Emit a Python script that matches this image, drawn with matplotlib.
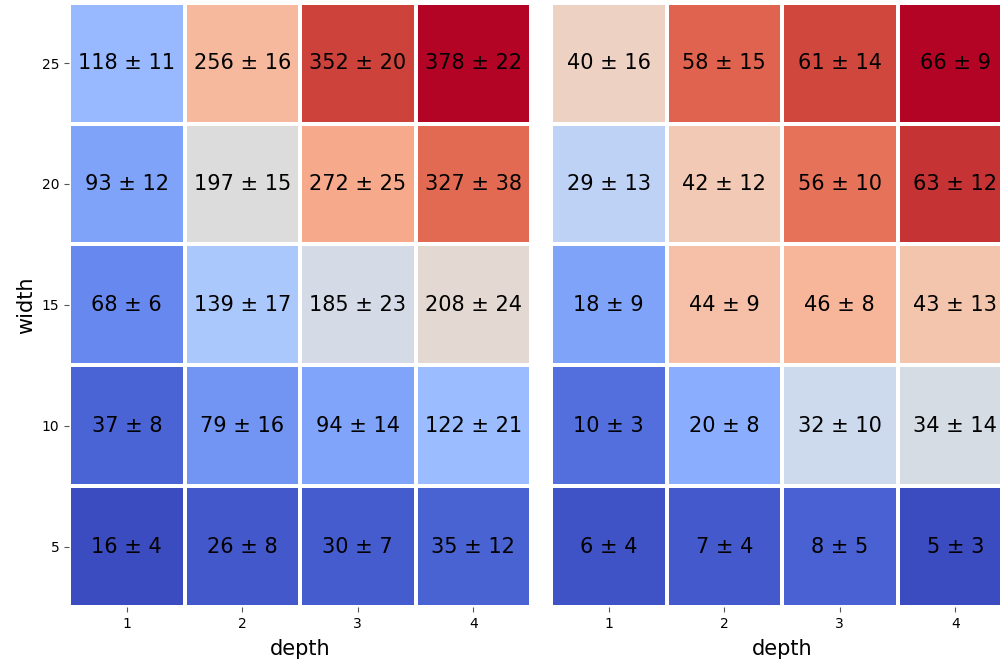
import numpy as np
import matplotlib
matplotlib.use("Agg")
import matplotlib.pyplot as plt

depth = [1, 2, 3, 4]
width = [5, 10, 15, 20, 25]

# rows: width 5,10,15,20,25 ; cols: depth 1..4
left_mean = [[16, 26, 30, 35],
             [37, 79, 94, 122],
             [68, 139, 185, 208],
             [93, 197, 272, 327],
             [118, 256, 352, 378]]
left_err = [[4, 8, 7, 12],
            [8, 16, 14, 21],
            [6, 17, 23, 24],
            [12, 15, 25, 38],
            [11, 16, 20, 22]]
right_mean = [[6, 7, 8, 5],
              [10, 20, 32, 34],
              [18, 44, 46, 43],
              [29, 42, 56, 63],
              [40, 58, 61, 66]]
right_err = [[4, 4, 5, 3],
             [3, 8, 10, 14],
             [9, 9, 8, 13],
             [13, 12, 10, 12],
             [16, 15, 14, 9]]

fig = plt.figure(figsize=(10, 6.67), dpi=100)
axL = fig.add_axes([0.069, 0.09, 0.462, 0.906])
axR = fig.add_axes([0.551, 0.09, 0.462, 0.906])

for ax, mean, err, ylab in [(axL, left_mean, left_err, True), (axR, right_mean, right_err, False)]:
    m = np.array(mean, dtype=float)
    ax.pcolormesh(np.arange(len(depth) + 1), np.arange(len(width) + 1), m,
                  cmap="coolwarm", vmin=m.min(), vmax=m.max(),
                  edgecolors="white", linewidth=2.8)
    for i in range(len(width)):
        for j in range(len(depth)):
            ax.text(j + 0.5, i + 0.5, f"{mean[i][j]} ± {err[i][j]}",
                    ha="center", va="center", fontsize=15, color="black")
    ax.set_xlim(0, len(depth))
    ax.set_ylim(0, len(width))
    for s in ax.spines.values():
        s.set_visible(False)
    ax.set_xticks(np.arange(len(depth)) + 0.5)
    ax.set_xticklabels([str(d) for d in depth], fontsize=10)
    ax.set_xlabel("depth", fontsize=15, labelpad=6)
    ax.tick_params(color="#555555", length=3.5)
    if ylab:
        ax.set_yticks(np.arange(len(width)) + 0.5)
        ax.set_yticklabels([str(w) for w in width], fontsize=10)
        ax.set_ylabel("width", fontsize=15)
    else:
        ax.set_yticks([])

fig.savefig("out.png", dpi=100)
